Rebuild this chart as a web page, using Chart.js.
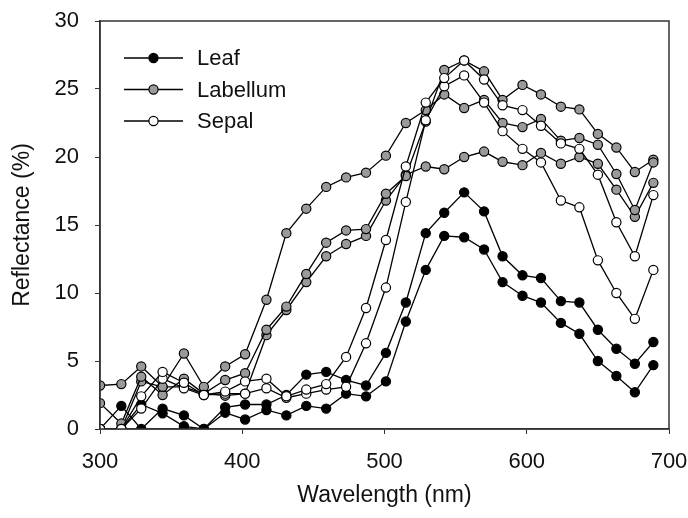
<!DOCTYPE html>
<html>
<head>
<meta charset="utf-8">
<script src="https://cdn.jsdelivr.net/npm/chart.js@4"></script>
<style>
  html, body { margin: 0; padding: 0; background: #fff; }
  #wrap { width: 688px; height: 518px; }
</style>
</head>
<body>
<div id="wrap"><canvas id="reflChart" width="688" height="518"></canvas></div>
<script>
// Longueurs d'onde (nm)
const wavelengths = [300, 315, 329, 344, 359, 373, 388, 402, 417, 431, 445, 459, 473, 487, 501, 515, 529, 542, 556, 570, 583, 597, 610, 624, 637, 650, 663, 676, 689];

// Leaf (noir)
const leaf1 = [0, 1.7, 0, 1.5, 1.0, 0, 1.6, 1.8, 1.8, 2.5, 4.0, 4.2, 3.6, 3.2, 5.6, 9.3, 14.4, 15.9, 17.4, 16.0, 12.7, 11.3, 11.1, 9.4, 9.3, 7.3, 5.9, 4.8, 6.4];
const leaf2 = [0, 0, 1.8, 1.15, 0.2, 0, 1.2, 0.7, 1.4, 1.0, 1.7, 1.5, 2.6, 2.4, 3.5, 7.9, 11.7, 14.2, 14.1, 13.2, 10.8, 9.8, 9.3, 7.8, 7.0, 5.0, 3.9, 2.7, 4.7];

// Labellum (gris)
const labellum1 = [3.2, 3.3, 4.6, 3.1, 5.55, 3.1, 4.6, 5.5, 9.5, 14.4, 16.2, 17.8, 18.5, 18.85, 20.1, 22.5, 23.45, 24.6, 23.6, 24.2, 22.5, 22.2, 22.8, 21.2, 21.4, 20.9, 18.75, 16.1, 19.6];
const labellum2 = [1.9, 0.4, 3.85, 2.5, 3.7, 2.6, 3.6, 4.1, 7.3, 9.0, 11.4, 13.7, 14.6, 14.7, 17.3, 18.6, 22.6, 26.4, 27.1, 26.3, 24.2, 25.3, 24.6, 23.7, 23.5, 21.7, 20.7, 18.9, 19.8];
const labellum3 = [0, 0, 3.5, 3.1, 3.1, 2.6, 2.45, 2.6, 6.9, 8.75, 10.8, 12.7, 13.6, 14.2, 16.8, 18.7, 19.3, 19.1, 20.0, 20.4, 19.65, 19.4, 20.3, 19.5, 20.0, 19.5, 17.6, 15.6, 18.1];

// Sepal (blanc)
const sepal1 = [0, 0, 2.4, 4.2, 3.4, 2.5, 2.75, 3.5, 3.7, 2.4, 2.9, 3.3, 5.3, 8.9, 13.9, 19.3, 24.0, 25.8, 27.1, 25.7, 23.8, 23.45, 22.3, 21.0, 20.6, 18.7, 15.2, 12.7, 17.2];
const sepal2 = [0, 0, 1.5, 3.7, 3.0, 2.5, 2.6, 2.6, 3.0, 2.3, 2.6, 2.9, 3.1, 6.3, 10.4, 16.7, 22.7, 25.2, 26.0, 24.0, 21.9, 20.6, 19.6, 16.8, 16.3, 12.4, 10.0, 8.1, 11.7];

const legendItems = [
    { label: 'Leaf', fill: '#000000' },
    { label: 'Labellum', fill: '#9a9a9a' },
    { label: 'Sepal', fill: '#ffffff' }
];

const FONT = '"Liberation Sans", Arial, sans-serif';

function serie(values, fill) {
    return {
        data: values.map((v, i) => ({ x: wavelengths[i], y: v })),
        borderColor: '#000',
        borderWidth: 1.3,
        backgroundColor: fill,
        pointBackgroundColor: fill,
        pointBorderColor: '#000',
        pointBorderWidth: 1.2,
        pointRadius: 4.6,
        tension: 0,
        fill: false
    };
}

// cadre + légende dessinés à la main
const cadrePlugin = {
    id: 'cadre',
    afterDraw(chart) {
        const { ctx, chartArea: a } = chart;
        ctx.save();
        ctx.strokeStyle = '#333';
        ctx.lineWidth = 1.5;
        ctx.strokeRect(a.left, a.top, a.right - a.left, a.bottom - a.top);

        ctx.font = '22px ' + FONT;
        ctx.textBaseline = 'middle';
        legendItems.forEach((it, i) => {
            const y = 58 + i * 31.5;
            ctx.beginPath();
            ctx.strokeStyle = '#000';
            ctx.lineWidth = 1.3;
            ctx.moveTo(124, y);
            ctx.lineTo(183, y);
            ctx.stroke();
            ctx.beginPath();
            ctx.arc(153.5, y, 4.6, 0, Math.PI * 2);
            ctx.fillStyle = it.fill;
            ctx.fill();
            ctx.lineWidth = 1.2;
            ctx.stroke();
            ctx.fillStyle = '#111';
            ctx.fillText(it.label, 197, y + 1);
        });
        ctx.restore();
    }
};

let ctx = document.getElementById('reflChart').getContext('2d');
let reflChart = new Chart(ctx, {
    type: 'line',
    data: {
        datasets: [
            serie(sepal1, '#ffffff'),
            serie(sepal2, '#ffffff'),
            serie(labellum1, '#9a9a9a'),
            serie(labellum2, '#9a9a9a'),
            serie(labellum3, '#9a9a9a'),
            serie(leaf1, '#000000'),
            serie(leaf2, '#000000')
        ]
    },
    options: {
        responsive: false,
        animation: false,
        layout: { padding: { top: 21, right: 19, left: 0, bottom: 0 } },
        plugins: {
            legend: { display: false },
            tooltip: { enabled: false }
        },
        scales: {
            x: {
                type: 'linear',
                min: 300,
                max: 700,
                ticks: {
                    stepSize: 100,
                    color: '#111',
                    padding: 15,
                    font: { family: FONT, size: 22 }
                },
                grid: { display: true, drawOnChartArea: false, tickLength: 5, color: '#333' },
                border: { display: true, color: '#333', width: 1.5 },
                title: {
                    display: true,
                    text: 'Wavelength (nm)',
                    color: '#111',
                    font: { family: FONT, size: 23 },
                    padding: { top: 2, bottom: 9 }
                },
                afterFit(scale) {
                    scale.height = 89;
                    scale.paddingLeft = 0;
                    scale.paddingRight = 0;
                }
            },
            y: {
                min: 0,
                max: 30,
                ticks: {
                    stepSize: 5,
                    color: '#111',
                    padding: 16,
                    font: { family: FONT, size: 22 }
                },
                grid: { display: true, drawOnChartArea: false, tickLength: 5, color: '#333' },
                border: { display: true, color: '#333', width: 1.5 },
                title: {
                    display: true,
                    text: 'Reflectance (%)',
                    color: '#111',
                    font: { family: FONT, size: 23 },
                    padding: { top: 9, bottom: 2 }
                },
                afterFit(scale) {
                    scale.width = 100;
                    scale.paddingTop = 0;
                    scale.paddingBottom = 0;
                }
            }
        }
    },
    plugins: [cadrePlugin]
});
</script>
</body>
</html>
